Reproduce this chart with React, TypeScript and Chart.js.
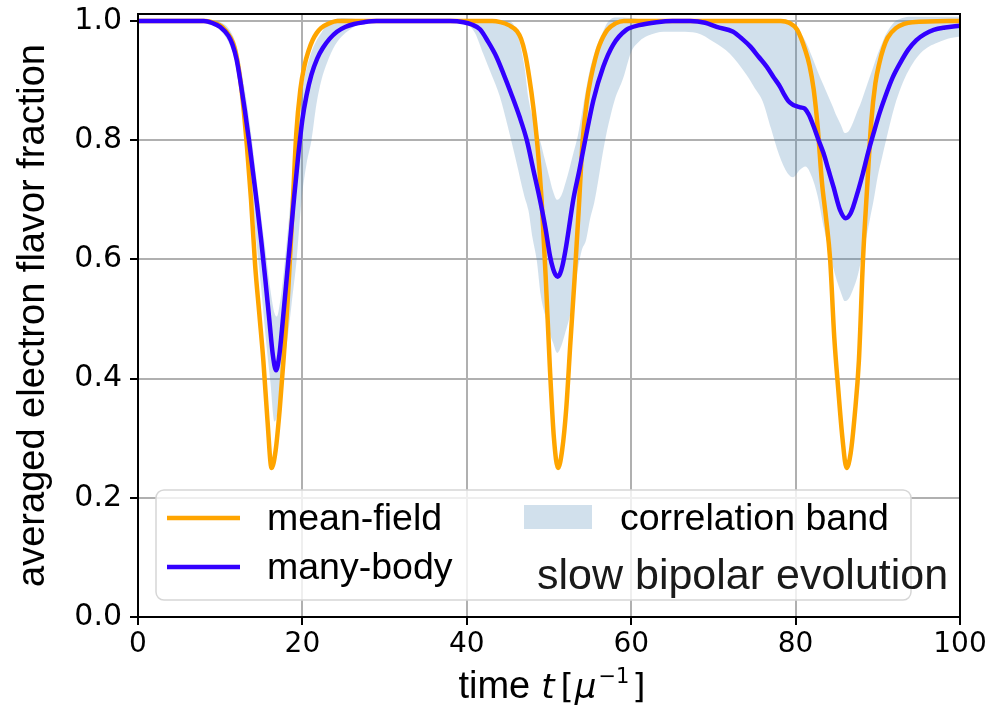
import React, { useEffect, useRef } from "react";
import { Chart, registerables } from "chart.js";

Chart.register(...registerables);

// ---------------- data ----------------
const tMean = [
  0, 8.25, 9.25, 10.25, 11.25, 11.75, 12.25, 12.75, 13.25, 13.75, 14.25, 14.75, 15.25, 15.75, 16.25,
  16.75, 17.25, 17.75, 18.25, 18.75, 19.25, 19.75, 20.25, 20.75, 21.25, 21.75, 22.25, 23.25, 24.25,
  43.1, 44.1, 45.1, 46.1, 46.6, 47.1, 47.6, 48.1, 48.6, 49.1, 49.6, 50.1, 50.6, 51.1,
  51.6, 52.1, 52.6, 53.1, 53.6, 54.1, 54.6, 55.1, 55.6, 56.1, 57.1, 58.1, 59.1,
  78.2, 79.2, 80.2, 81.2, 81.7, 82.2, 82.7, 83.2, 83.7, 84.2, 84.7, 85.2, 85.7, 86.2,
  86.7, 87.2, 87.7, 88.2, 88.7, 89.2, 89.7, 90.2, 90.7, 91.2, 92.2, 93.2, 94.2, 100,
];
const meanField = [
  1.0, 1.0, 0.997, 0.99, 0.972, 0.955, 0.92, 0.865, 0.79, 0.7, 0.59, 0.51, 0.43, 0.33, 0.25,
  0.28, 0.35, 0.44, 0.54, 0.67, 0.81, 0.885, 0.925, 0.95, 0.968, 0.98, 0.988, 0.996, 1.0,
  1.0, 0.998, 0.993, 0.983, 0.97, 0.945, 0.905, 0.855, 0.79, 0.7, 0.57, 0.42, 0.3, 0.25,
  0.28, 0.35, 0.46, 0.565, 0.68, 0.8, 0.865, 0.905, 0.935, 0.958, 0.985, 0.996, 1.0,
  1.0, 0.997, 0.985, 0.95, 0.925, 0.885, 0.82, 0.73, 0.67, 0.6, 0.47, 0.38, 0.3, 0.25,
  0.275, 0.34, 0.43, 0.6, 0.72, 0.83, 0.895, 0.93, 0.955, 0.972, 0.988, 0.995, 0.998, 1.0,
];

const tMany = [
  0, 8, 9, 10, 11, 11.5, 12, 12.5, 13, 13.5, 14, 14.5, 15, 15.5, 16, 16.4, 16.8,
  17.2, 17.6, 18.0, 18.5, 19.0, 19.5, 20.0, 20.5, 21.1, 21.8, 22.5, 23.3, 24.2, 25.2, 26.3, 27.5, 29,
  38, 39.6, 40.6, 41.6, 42.6, 43.6, 44.5, 45.4, 46.4, 47.3, 48.1, 48.9, 49.6, 50.1, 50.5, 50.8, 51.05,
  51.35, 51.65, 52.0, 52.4, 52.95, 53.7, 54.4, 55.4, 56.6, 57.8, 59.4, 61, 63.1, 65, 67.2,
  69, 70.4, 72.4, 73.5, 74.5, 75.5, 76.5, 77.3, 78.1, 78.6, 79.1, 79.6, 80.1, 80.6, 81.1, 81.6,
  82.2, 82.8, 83.4, 84.0, 84.6, 85.4, 86.1, 86.6, 87.0, 87.6, 88.2, 88.8, 89.45, 90.2, 90.9,
  91.8, 92.7, 93.7, 94.7, 95.7, 96.8, 98.2, 100,
];
const manyBody = [
  1.0, 1.0, 0.997, 0.99, 0.975, 0.96, 0.935, 0.895, 0.85, 0.8, 0.745, 0.69, 0.63, 0.565, 0.495, 0.44, 0.414,
  0.44, 0.495, 0.555, 0.63, 0.705, 0.775, 0.835, 0.875, 0.91, 0.937, 0.955, 0.97, 0.982, 0.99, 0.995, 0.998, 1.0,
  1.0, 0.998, 0.994, 0.986, 0.965, 0.94, 0.91, 0.878, 0.84, 0.8, 0.75, 0.7, 0.65, 0.607, 0.584, 0.574, 0.571,
  0.576, 0.59, 0.615, 0.65, 0.7, 0.75, 0.8, 0.867, 0.923, 0.96, 0.985, 0.993, 0.998, 1.0, 1.0,
  0.997, 0.99, 0.982, 0.97, 0.957, 0.94, 0.923, 0.906, 0.89, 0.877, 0.866, 0.86, 0.857, 0.855, 0.853, 0.843,
  0.823, 0.8, 0.778, 0.75, 0.722, 0.683, 0.669, 0.675, 0.688, 0.715, 0.745, 0.778, 0.81, 0.845, 0.873,
  0.905, 0.929, 0.952, 0.968, 0.978, 0.985, 0.989, 0.992,
];

const tBand = [
  0, 8, 9, 10, 11, 12, 12.6, 13.2, 13.8, 14.4, 15, 15.6, 16.1, 16.6, 16.9, 17.3, 17.7, 18.2, 18.7, 19.3,
  19.9, 20.5, 21.1, 21.7, 22.3, 23, 24, 25, 26, 27, 28.5, 38, 40, 41, 42, 43, 44, 45, 46, 47, 47.5, 48,
  48.5, 49, 49.5, 50, 50.5, 51, 51.5, 52, 52.5, 53, 53.5, 54, 54.5, 55, 55.5, 56, 56.5, 57, 57.5, 58,
  59, 60, 61, 62, 64, 66, 68, 70, 72, 74, 75, 76, 77, 78, 79, 79.7, 80.5, 81.2, 82, 82.7, 83.4, 84,
  84.5, 85, 85.5, 86, 86.5, 87, 87.5, 88, 88.5, 89, 89.5, 90, 90.5, 91, 92, 93, 94, 95, 96, 97, 98.5, 100,
];
const bandLow = [
  1.0, 1.0, 0.998, 0.985, 0.965, 0.925, 0.88, 0.8, 0.72, 0.63, 0.55, 0.46, 0.395, 0.328, 0.337, 0.368, 0.42, 0.468, 0.527, 0.6,
  0.7, 0.76, 0.8, 0.86, 0.9, 0.93, 0.96, 0.977, 0.988, 0.995, 1.0, 1.0, 0.995, 0.98, 0.945, 0.91, 0.874, 0.822, 0.765, 0.706, 0.682, 0.636,
  0.6, 0.54, 0.508, 0.48, 0.46, 0.443, 0.455, 0.478, 0.503, 0.537, 0.583, 0.616, 0.632, 0.668, 0.695, 0.733, 0.775, 0.812, 0.842, 0.868,
  0.903, 0.948, 0.966, 0.975, 0.982, 0.982, 0.98, 0.965, 0.945, 0.91, 0.888, 0.865, 0.82, 0.775, 0.745, 0.738, 0.75, 0.756, 0.738, 0.705, 0.655, 0.62,
  0.59, 0.565, 0.545, 0.53, 0.535, 0.55, 0.57, 0.6, 0.63, 0.665, 0.7, 0.74, 0.77, 0.8, 0.855, 0.895, 0.923, 0.943, 0.955, 0.962, 0.97, 0.974,
];
const bandHigh = [
  1.0, 1.0, 1.0, 0.998, 0.988, 0.958, 0.915, 0.866, 0.806, 0.737, 0.67, 0.605, 0.55, 0.51, 0.504, 0.53, 0.575, 0.645, 0.72, 0.81,
  0.88, 0.92, 0.948, 0.967, 0.98, 0.995, 1.003, 1.005, 1.004, 1.002, 1.0, 1.0, 1.0, 1.0, 1.0, 1.0, 1.0, 1.0, 0.985, 0.925, 0.87, 0.84,
  0.817, 0.795, 0.767, 0.74, 0.714, 0.7, 0.707, 0.728, 0.753, 0.78, 0.807, 0.845, 0.885, 0.92, 0.945, 0.965, 0.98, 0.995, 1.003, 1.006,
  1.006, 1.005, 1.003, 1.001, 1.0, 1.0, 1.0, 1.0, 1.0, 1.0, 1.0, 1.0, 1.0, 1.0, 0.997, 0.992, 0.982, 0.966, 0.94, 0.915, 0.892, 0.873,
  0.857, 0.84, 0.826, 0.812, 0.816, 0.83, 0.848, 0.865, 0.885, 0.905, 0.925, 0.945, 0.962, 0.978, 0.998, 1.005, 1.007, 1.007, 1.007, 1.007, 1.007, 1.007,
];

const xTicks = [0, 20, 40, 60, 80, 100];
const yTicks = [0, 0.2, 0.4, 0.6, 0.8, 1.0];
const legendLabels = ["mean-field", "many-body", "correlation band"];
const annotationText = "slow bipolar evolution";
const yTitle = "averaged electron flavor fraction";

// ---------------- styles ----------------
const ORANGE = "#ffa500";
const BLUE = "#3300ff";
const BAND = "rgba(70,130,180,0.25)";
const SANS = '"Liberation Sans", Arial, sans-serif';
const DEJAVU = '"DejaVu Sans", sans-serif';

const toPts = (xs: number[], ys: number[]) => xs.map((x, i) => ({ x, y: ys[i] }));

function roundRectPath(ctx: CanvasRenderingContext2D, x: number, y: number, w: number, h: number, r: number) {
  ctx.beginPath();
  ctx.moveTo(x + r, y);
  ctx.arcTo(x + w, y, x + w, y + h, r);
  ctx.arcTo(x + w, y + h, x, y + h, r);
  ctx.arcTo(x, y + h, x, y, r);
  ctx.arcTo(x, y, x + w, y, r);
  ctx.closePath();
}

function drawXTitle(ctx: CanvasRenderingContext2D, cx: number, base: number) {
  const segs = [
    { t: "time", f: `38px ${SANS}`, dy: 0, gap: 11 },
    { t: "t", f: `italic 34px ${DEJAVU}`, dy: 0, gap: 6 },
    { t: "[", f: `34px ${DEJAVU}`, dy: 0, gap: 1 },
    { t: "\u03bc", f: `italic 34px ${DEJAVU}`, dy: 0, gap: 2 },
    { t: "\u22121", f: `21px ${DEJAVU}`, dy: -15, gap: 3 },
    { t: "]", f: `34px ${DEJAVU}`, dy: 0, gap: 0 },
  ];
  let total = 0;
  const widths = segs.map((s) => {
    ctx.font = s.f;
    const w = ctx.measureText(s.t).width;
    total += w + s.gap;
    return w;
  });
  let x = cx - total / 2;
  ctx.fillStyle = "#000";
  ctx.textBaseline = "alphabetic";
  ctx.textAlign = "left";
  segs.forEach((s, i) => {
    ctx.font = s.f;
    ctx.fillText(s.t, x, base + s.dy);
    x += widths[i] + s.gap;
  });
}

const overlayPlugin = {
  id: "overlay",
  afterDatasetsDraw(chart: any) {
    const ctx: CanvasRenderingContext2D = chart.ctx;
    const a = chart.chartArea;
    ctx.save();
    // frame
    ctx.strokeStyle = "#000";
    ctx.lineWidth = 2;
    ctx.strokeRect(a.left, a.top, a.right - a.left, a.bottom - a.top);

    // legend box
    roundRectPath(ctx, 156, 490, 755, 110, 8);
    ctx.fillStyle = "rgba(255,255,255,0.8)";
    ctx.fill();
    ctx.strokeStyle = "#d6d6d6";
    ctx.lineWidth = 1.5;
    ctx.stroke();

    // handles
    ctx.lineCap = "butt";
    ctx.lineWidth = 4.5;
    ctx.strokeStyle = ORANGE;
    ctx.beginPath();
    ctx.moveTo(167, 518);
    ctx.lineTo(240, 518);
    ctx.stroke();
    ctx.strokeStyle = BLUE;
    ctx.beginPath();
    ctx.moveTo(167, 567);
    ctx.lineTo(240, 567);
    ctx.stroke();
    ctx.fillStyle = BAND;
    ctx.fillRect(524, 505, 68, 24);

    // texts
    ctx.fillStyle = "#000";
    ctx.textAlign = "left";
    ctx.textBaseline = "alphabetic";
    ctx.font = `37.5px ${SANS}`;
    ctx.fillText(legendLabels[0], 267, 530);
    ctx.fillText(legendLabels[1], 267, 579);
    ctx.fillText(legendLabels[2], 620, 530);
    ctx.font = `43px ${SANS}`;
    ctx.fillStyle = "#1a1a1a";
    ctx.fillText(annotationText, 537, 589);

    // x title
    drawXTitle(ctx, 552, 698);
    ctx.restore();
  },
};

export default function App() {
  const ref = useRef<HTMLCanvasElement>(null);

  useEffect(() => {
    if (!ref.current) return;
    const chart = new Chart(ref.current, {
      type: "line",
      data: {
        datasets: [
          {
            label: "band-low",
            data: toPts(tBand, bandLow),
            borderWidth: 0,
            borderColor: "rgba(0,0,0,0)",
            pointRadius: 0,
            fill: false,
            order: 3,
            cubicInterpolationMode: "monotone",
          },
          {
            label: legendLabels[2],
            data: toPts(tBand, bandHigh),
            borderWidth: 0,
            borderColor: "rgba(0,0,0,0)",
            backgroundColor: BAND,
            pointRadius: 0,
            fill: "-1",
            order: 2,
            cubicInterpolationMode: "monotone",
          },
          {
            label: legendLabels[0],
            data: toPts(tMean, meanField),
            borderColor: ORANGE,
            borderWidth: 4.5,
            pointRadius: 0,
            fill: false,
            order: 1,
            cubicInterpolationMode: "monotone",
            borderJoinStyle: "round",
          },
          {
            label: legendLabels[1],
            data: toPts(tMany, manyBody),
            borderColor: BLUE,
            borderWidth: 4.5,
            pointRadius: 0,
            fill: false,
            order: 0,
            cubicInterpolationMode: "monotone",
            borderJoinStyle: "round",
          },
        ],
      } as any,
      options: {
        animation: false,
        responsive: false,
        devicePixelRatio: 1,
        layout: { padding: { left: 0, right: 30, top: 14, bottom: 0 } },
        plugins: {
          legend: { display: false },
          tooltip: { enabled: false },
        },
        scales: {
          x: {
            type: "linear",
            min: 0,
            max: 100,
            afterBuildTicks: (s: any) => {
              s.ticks = xTicks.map((v) => ({ value: v }));
            },
            afterFit: (s: any) => {
              s.height = 106;
              s.paddingLeft = 0;
              s.paddingRight = 0;
            },
            ticks: {
              color: "#000",
              font: { family: DEJAVU, size: 28 },
              padding: 3,
              maxRotation: 0,
              autoSkip: false,
              callback: (v: any) => String(v),
            },
            grid: {
              color: "#b0b0b0",
              lineWidth: 2,
              tickColor: "#000",
              tickWidth: 2,
              tickLength: 8,
            },
            border: { display: false },
            title: { display: false },
          },
          y: {
            type: "linear",
            min: 0,
            max: 1.0117,
            afterBuildTicks: (s: any) => {
              s.ticks = yTicks.map((v) => ({ value: v }));
            },
            afterFit: (s: any) => {
              s.width = 138;
              s.paddingTop = 0;
              s.paddingBottom = 0;
            },
            ticks: {
              color: "#000",
              font: { family: DEJAVU, size: 30 },
              padding: 8,
              includeBounds: false,
              callback: (v: any) => Number(v).toFixed(1),
            },
            grid: {
              color: "#b0b0b0",
              lineWidth: 2,
              tickColor: "#000",
              tickWidth: 2,
              tickLength: 8,
            },
            border: { display: false },
            title: {
              display: true,
              text: yTitle,
              color: "#000",
              font: { family: SANS, size: 38 },
              padding: { top: 11, bottom: 0 },
            },
          },
        },
      } as any,
      plugins: [overlayPlugin],
    });
    return () => chart.destroy();
  }, []);

  return (
    <div style={{ position: "fixed", left: 0, top: 0, width: 990, height: 723, background: "#fff" }}>
      <canvas ref={ref} width={990} height={723} style={{ display: "block", width: 990, height: 723 }} />
    </div>
  );
}
